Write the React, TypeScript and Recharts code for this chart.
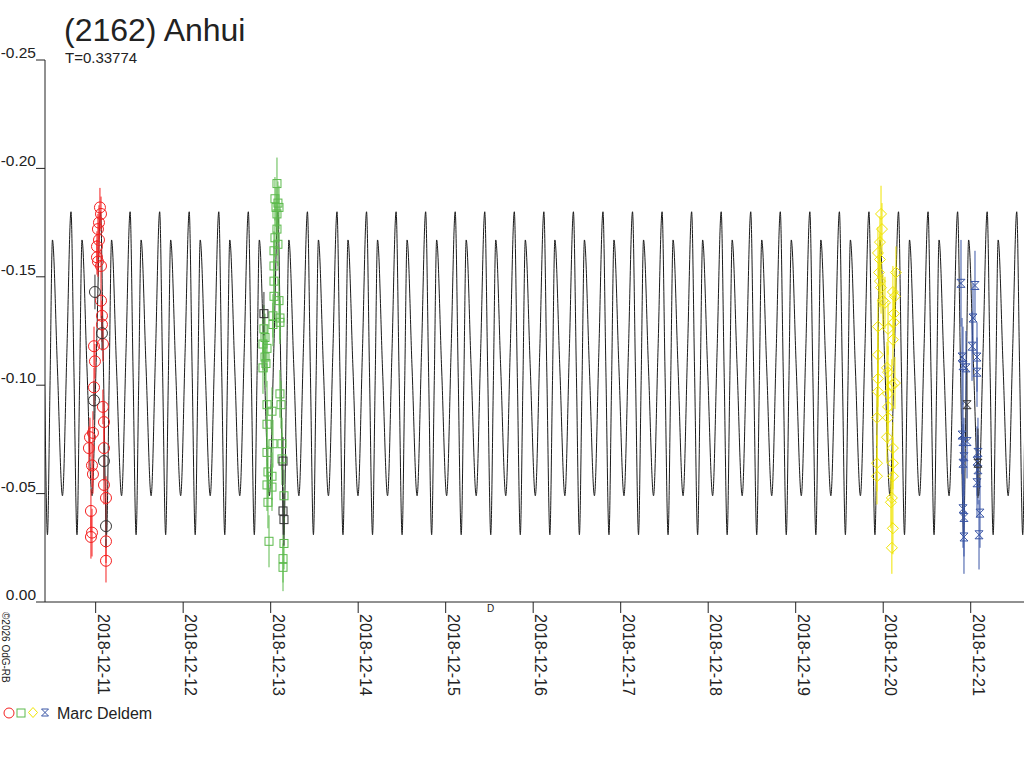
import { ComposedChart, Line, Scatter, ErrorBar, XAxis, YAxis } from 'recharts';

type Obs = [number, number, number]; // [days since 2018-12-11, delta mag, error]

const dayTicks = [0, 1, 2, 3, 4, 5, 6, 7, 8, 9, 10];
const dateLabels = [
  '2018-12-11', '2018-12-12', '2018-12-13', '2018-12-14', '2018-12-15', '2018-12-16',
  '2018-12-17', '2018-12-18', '2018-12-19', '2018-12-20', '2018-12-21',
];
const magTicks = [-0.25, -0.2, -0.15, -0.1, -0.05, 0];
const magLabels = ['-0.25', '-0.20', '-0.15', '-0.10', '-0.05', '0.00'];

// model light curve: one rotation
const period = 0.33774;
const epoch = 3.771; // a primary maximum
const profilePhase = [0, 0.1, 0.203, 0.29, 0.372, 0.54, 0.711, 0.86];
const profileMag = [-0.18, -0.106, -0.031, -0.1, -0.167, -0.108, -0.049, -0.115];

const redObs: Obs[] = [
  [0.049, -0.182, 0.009], [0.061, -0.179, 0.008], [0.038, -0.175, 0.008], [0.026, -0.172, 0.007],
  [0.038, -0.167, 0.008], [0.015, -0.164, 0.007], [0.015, -0.159, 0.008], [0.026, -0.157, 0.007],
  [0.061, -0.155, 0.008], [0.061, -0.139, 0.008], [0.072, -0.132, 0.007], [0.072, -0.128, 0.008],
  [0.083, -0.119, 0.008], [-0.019, -0.118, 0.009], [-0.008, -0.111, 0.008], [-0.019, -0.099, 0.009],
  [0.083, -0.09, 0.008], [0.095, -0.083, 0.009], [-0.031, -0.078, 0.01], [-0.065, -0.076, 0.009],
  [-0.077, -0.071, 0.01], [0.095, -0.071, 0.009], [-0.042, -0.063, 0.01], [-0.031, -0.059, 0.009],
  [0.095, -0.054, 0.009], [0.118, -0.048, 0.01], [-0.054, -0.042, 0.01], [-0.042, -0.032, 0.011],
  [-0.054, -0.03, 0.01], [0.118, -0.028, 0.01], [0.118, -0.019, 0.01],
];
const redGrey: Obs[] = [
  [-0.008, -0.143, 0.008], [0.072, -0.124, 0.008], [-0.019, -0.093, 0.009], [0.095, -0.065, 0.009],
  [0.118, -0.035, 0.01],
];

const greenObs: Obs[] = [
  [2.072, -0.193, 0.012], [2.049, -0.186, 0.01], [2.083, -0.184, 0.01], [2.061, -0.182, 0.009],
  [2.095, -0.182, 0.01], [2.072, -0.179, 0.009], [2.072, -0.172, 0.009], [2.049, -0.168, 0.009],
  [2.083, -0.165, 0.01], [2.038, -0.162, 0.009], [2.038, -0.155, 0.009], [2.038, -0.148, 0.01],
  [2.038, -0.141, 0.01], [2.095, -0.139, 0.01], [2.026, -0.132, 0.01], [2.106, -0.131, 0.01],
  [2.026, -0.128, 0.01], [2.106, -0.129, 0.01], [1.923, -0.126, 0.011], [1.935, -0.122, 0.011],
  [1.912, -0.119, 0.012], [1.958, -0.117, 0.011], [1.935, -0.113, 0.011], [1.946, -0.11, 0.011],
  [1.912, -0.108, 0.012], [2.106, -0.096, 0.011], [2.118, -0.091, 0.011], [1.958, -0.091, 0.011],
  [2.015, -0.088, 0.011], [1.958, -0.082, 0.011], [2.129, -0.073, 0.012], [2.026, -0.073, 0.011],
  [1.958, -0.069, 0.012], [2.129, -0.066, 0.012], [1.969, -0.06, 0.012], [2.015, -0.058, 0.011],
  [1.958, -0.054, 0.012], [2.015, -0.053, 0.011], [1.969, -0.046, 0.012], [2.152, -0.049, 0.012],
  [1.981, -0.028, 0.012], [2.152, -0.027, 0.012], [2.141, -0.02, 0.011], [2.141, -0.016, 0.011],
];
const greenGrey: Obs[] = [
  [1.923, -0.133, 0.01], [2.141, -0.065, 0.011], [2.141, -0.042, 0.011], [2.152, -0.038, 0.012],
];

const yellowObs: Obs[] = [
  [8.975, -0.179, 0.013], [8.986, -0.172, 0.012], [8.963, -0.166, 0.012], [8.94, -0.161, 0.012],
  [8.963, -0.158, 0.012], [8.952, -0.152, 0.012], [9.146, -0.152, 0.012], [8.963, -0.148, 0.012],
  [8.975, -0.145, 0.012], [9.111, -0.143, 0.012], [9.134, -0.141, 0.012], [8.997, -0.139, 0.012],
  [9.02, -0.138, 0.012], [9.123, -0.133, 0.012], [9.123, -0.129, 0.012], [8.94, -0.127, 0.013],
  [9.055, -0.126, 0.012], [9.111, -0.121, 0.012], [8.94, -0.114, 0.013], [9.043, -0.108, 0.012],
  [9.055, -0.106, 0.012], [8.94, -0.103, 0.013], [9.134, -0.101, 0.012], [9.099, -0.1, 0.012],
  [8.94, -0.097, 0.013], [9.055, -0.096, 0.012], [9.055, -0.09, 0.012], [8.929, -0.085, 0.013],
  [9.055, -0.085, 0.012], [9.043, -0.076, 0.012], [9.111, -0.071, 0.012], [8.929, -0.064, 0.013],
  [9.111, -0.064, 0.012], [8.929, -0.058, 0.013], [9.111, -0.058, 0.012], [9.099, -0.048, 0.012],
  [9.088, -0.046, 0.012], [9.111, -0.034, 0.012], [9.099, -0.025, 0.012],
];

const blueObs: Obs[] = [
  [9.889, -0.147, 0.02], [10.049, -0.146, 0.016], [10.026, -0.131, 0.016], [10.015, -0.118, 0.016],
  [10.072, -0.113, 0.016], [9.901, -0.113, 0.018], [9.912, -0.109, 0.018], [9.946, -0.108, 0.017],
  [10.072, -0.106, 0.016], [9.901, -0.077, 0.018], [9.958, -0.074, 0.017], [9.912, -0.074, 0.018],
  [10.083, -0.069, 0.016], [9.923, -0.067, 0.018], [10.072, -0.065, 0.016], [9.912, -0.064, 0.018],
  [10.083, -0.061, 0.016], [10.072, -0.055, 0.016], [10.106, -0.041, 0.016], [9.912, -0.043, 0.018],
  [9.923, -0.039, 0.018], [10.095, -0.031, 0.016], [9.923, -0.03, 0.017],
];
const blueGrey: Obs[] = [
  [9.958, -0.091, 0.017], [10.083, -0.064, 0.016],
];

const RED = '#f52020';
const GREEN = '#5cba4c';
const YELLOW = '#f0e400';
const BLUE = '#3a56a6';
const GREY = '#333333';
const INK = '#222222';
const FONT = '"Liberation Sans", Arial, sans-serif';

const xDomain: [number, number] = [-0.579, 10.609];

const toRows = (obs: Obs[]) => obs.map(([t, m, e]) => ({ t, m, e }));

// repeat the one-rotation profile over the time range
const modelRows: { t: number; m: number }[] = [];
for (let k = -14; k <= 22; k++) {
  profilePhase.forEach((ph, i) => {
    const t = epoch + (k + ph) * period;
    if (t > xDomain[0] - period && t < xDomain[1] + period) {
      modelRows.push({ t, m: profileMag[i] });
    }
  });
}

const circle = (color: string) => (p: any) => (
  <circle cx={p.cx} cy={p.cy} r={5.5} fill="none" stroke={color} strokeWidth={1} />
);
const square = (color: string) => (p: any) => (
  <rect x={p.cx - 4} y={p.cy - 4} width={8} height={8} fill="none" stroke={color} strokeWidth={1} />
);
const diamond = (color: string) => (p: any) => (
  <path
    d={`M${p.cx},${p.cy - 5.5}L${p.cx + 5.5},${p.cy}L${p.cx},${p.cy + 5.5}L${p.cx - 5.5},${p.cy}Z`}
    fill="none"
    stroke={color}
    strokeWidth={1}
  />
);
const hourglass = (color: string) => (p: any) => (
  <path
    d={`M${p.cx - 4},${p.cy - 4}H${p.cx + 4}L${p.cx - 4},${p.cy + 4}H${p.cx + 4}Z`}
    fill="none"
    stroke={color}
    strokeWidth={1}
  />
);

const YTick = ({ x, y, payload }: any) => {
  const i = magTicks.findIndex((v) => Math.abs(v - payload.value) < 1e-6);
  return (
    <text x={x} y={y - 2} textAnchor="end" fontSize={15.5} fill={INK} fontFamily={FONT}>
      {magLabels[i]}
    </text>
  );
};

const XTick = ({ x, y, payload }: any) => (
  <text
    transform={`translate(${x + 2},${y + 1}) rotate(90)`}
    fontSize={16}
    fill={INK}
    fontFamily={FONT}
  >
    {dateLabels[payload.value]}
  </text>
);

export default function App() {
  const groups = [
    { data: redObs, color: RED, shape: circle },
    { data: redGrey, color: GREY, shape: circle },
    { data: greenObs, color: GREEN, shape: square },
    { data: greenGrey, color: GREY, shape: square },
    { data: yellowObs, color: YELLOW, shape: diamond },
    { data: blueObs, color: BLUE, shape: hourglass },
    { data: blueGrey, color: GREY, shape: hourglass },
  ];

  return (
    <div style={{ position: 'absolute', left: 0, top: 0, width: 1024, height: 768, background: '#fff' }}>
      <ComposedChart width={1024} height={768} margin={{ top: 60, right: 0, bottom: 0, left: 0 }}>
        <XAxis
          type="number"
          dataKey="t"
          domain={xDomain}
          allowDataOverflow
          ticks={dayTicks}
          interval={0}
          height={166}
          tickSize={11}
          tickMargin={0}
          tick={<XTick />}
          axisLine={{ stroke: INK }}
          tickLine={{ stroke: INK }}
        />
        <YAxis
          type="number"
          domain={[-0.25, 0]}
          reversed
          ticks={magTicks}
          interval={0}
          width={45}
          tickSize={9}
          tickMargin={0}
          tick={<YTick />}
          axisLine={{ stroke: INK }}
          tickLine={{ stroke: INK }}
        />
        <Line
          data={modelRows}
          dataKey="m"
          type="monotone"
          dot={false}
          stroke="#1a1a1a"
          strokeWidth={1}
          isAnimationActive={false}
        />
        {groups.map((g, i) => (
          <Scatter
            key={i}
            data={toRows(g.data)}
            dataKey="m"
            shape={g.shape(g.color)}
            isAnimationActive={false}
          >
            <ErrorBar dataKey="e" direction="y" width={0} stroke={g.color} strokeWidth={1} />
          </Scatter>
        ))}
      </ComposedChart>
      <svg
        width={1024}
        height={768}
        style={{ position: 'absolute', left: 0, top: 0, pointerEvents: 'none' }}
        fontFamily={FONT}
      >
        <text x={64} y={41} fontSize={32} fill={INK}>(2162) Anhui</text>
        <text x={65} y={63} fontSize={15} fill={INK}>T=0.33774</text>
        <text x={487} y={612} fontSize={10} fill={INK}>D</text>
        <text transform="translate(2,612) rotate(90)" fontSize={10} fill={INK}>©2026 OdG-RB</text>
        <circle cx={9} cy={713} r={5} fill="none" stroke={RED} />
        <rect x={17} y={709} width={8} height={8} fill="none" stroke={GREEN} />
        <path d="M33,707.5L37.5,712.5L33,717.5L28.5,712.5Z" fill="none" stroke={YELLOW} />
        <path d="M41.5,709H48.5L41.5,716H48.5Z" fill="none" stroke={BLUE} />
        <text x={57} y={719} fontSize={16} fill={INK}>Marc Deldem</text>
      </svg>
    </div>
  );
}
